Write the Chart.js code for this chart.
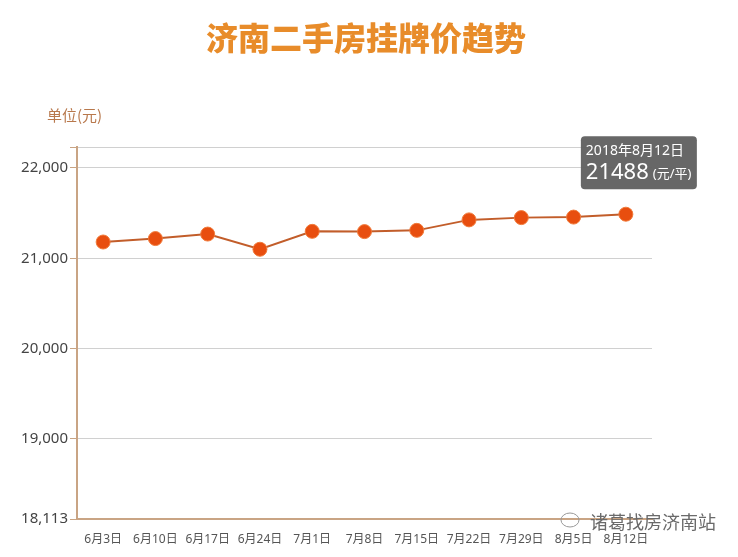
<!DOCTYPE html>
<html>
<head>
<meta charset="utf-8">
<script src="https://cdn.jsdelivr.net/npm/chart.js@4"></script>
<style>
  html, body { margin: 0; padding: 0; background: #fff; }
  #wrap { position: relative; width: 738px; height: 557px; }
</style>
</head>
<body>
<div id="wrap"><canvas id="priceChart" width="738" height="557"></canvas></div>
<script>
const categories = ["6月3日", "6月10日", "6月17日", "6月24日", "7月1日", "7月8日", "7月15日", "7月22日", "7月29日", "8月5日", "8月12日"];
const prices = [21180, 21218, 21268, 21100, 21298, 21295, 21309, 21425, 21450, 21456, 21488];
const yTicks = [18113, 19000, 20000, 21000, 22000, 22232];
const tooltipDate = "2018年8月12日";
const tooltipUnit = "(元/平)";

const FONT = "'Noto Sans', 'Noto Sans CJK SC', sans-serif";

// title, unit label, fixed tooltip and footer mark
const decorPlugin = {
    id: "decor",
    afterDraw(chart) {
        const ctx = chart.ctx;
        ctx.save();

        ctx.fillStyle = "#e88c2a";
        ctx.font = "900 32px 'Noto Sans CJK SC', sans-serif";
        ctx.textAlign = "center";
        ctx.textBaseline = "middle";
        ctx.fillText("济南二手房挂牌价趋势", 366, 38);

        ctx.fillStyle = "#b8784c";
        ctx.font = "15px 'Noto Sans CJK SC', sans-serif";
        ctx.textAlign = "left";
        ctx.fillText("单位(元)", 47, 115);

        // tooltip over the last point
        const meta = chart.getDatasetMeta(0);
        const last = meta.data[meta.data.length - 1];
        const bx = last.x - 45, by = last.y - 78, bw = 116, bh = 53;
        ctx.fillStyle = "rgba(95,95,95,0.95)";
        ctx.beginPath();
        ctx.roundRect(bx, by, bw, bh, 4);
        ctx.fill();

        ctx.fillStyle = "#fff";
        ctx.textBaseline = "middle";
        ctx.font = "14px " + FONT;
        ctx.fillText(tooltipDate, bx + 5, by + 15);
        ctx.font = "22px " + FONT;
        const val = String(prices[prices.length - 1]);
        ctx.fillText(val, bx + 5, by + 37);
        const w = ctx.measureText(val).width;
        ctx.font = "13px " + FONT;
        ctx.fillText(tooltipUnit, bx + 9 + w, by + 38);

        // footer mark
        ctx.fillStyle = "#6a6a6a";
        ctx.font = "18px 'Noto Sans CJK SC', sans-serif";
        ctx.fillText("诸葛找房济南站", 590, 522);
        ctx.strokeStyle = "#999";
        ctx.lineWidth = 1;
        ctx.beginPath();
        ctx.ellipse(570, 520, 9, 7, 0, 0, Math.PI * 2);
        ctx.stroke();

        ctx.restore();
    }
};

new Chart(document.getElementById("priceChart"), {
    type: "line",
    data: {
        labels: categories,
        datasets: [{
            data: prices,
            borderColor: "#c25d2a",
            borderWidth: 2,
            pointBackgroundColor: "#e84e0f",
            pointBorderColor: "#f07a3a",
            pointBorderWidth: 1,
            pointRadius: 7,
            tension: 0
        }]
    },
    options: {
        responsive: false,
        animation: false,
        layout: { padding: { top: 147, right: 86, left: 0, bottom: 0 } },
        plugins: { legend: { display: false }, tooltip: { enabled: false } },
        scales: {
            x: {
                offset: true,
                afterFit(scale) { scale.height = 38; },
                grid: { display: false, drawTicks: false },
                border: { color: "#c9a484", width: 2 },
                ticks: { color: "#555", font: { size: 12, family: FONT }, padding: 13, maxRotation: 0, autoSkip: false }
            },
            y: {
                min: 18113,
                max: 22232,
                afterFit(scale) { scale.width = 77; },
                afterBuildTicks(scale) { scale.ticks = yTicks.map(v => ({ value: v })); },
                grid: { color: "#d0d0d0", tickLength: 7, tickColor: "#c9a484" },
                border: { color: "#c9a484", width: 2 },
                ticks: {
                    color: "#444",
                    font: { size: 15, family: FONT },
                    padding: 2,
                    callback: v => v === 22232 ? "" : v.toLocaleString("en-US")
                }
            }
        }
    },
    plugins: [decorPlugin]
});
</script>
</body>
</html>
